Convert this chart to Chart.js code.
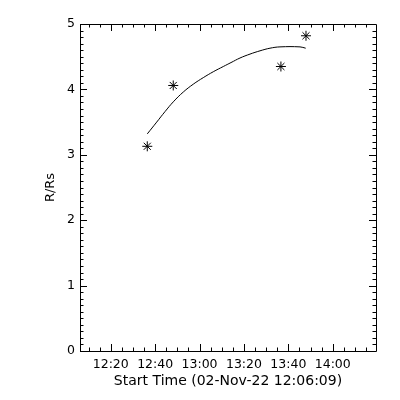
<!DOCTYPE html>
<html>
<head>
<meta charset="utf-8">
<script src="https://cdn.jsdelivr.net/npm/chart.js@4/dist/chart.umd.min.js"></script>
<style>
html,body{margin:0;padding:0;background:#fff;}
#wrap{width:400px;height:400px;}
</style>
</head>
<body>
<div id="wrap"><canvas id="c" width="400" height="400"></canvas></div>
<script>
// ---- data ----
const startTime = '12:06:09';
const axisSpanSeconds = 8000;
const pointTimes = ['12:36:27', '12:48:09', '13:36:39', '13:47:57'];
const pointValues = [3.13, 4.06, 4.35, 4.82];
const fitTimes = ['12:36:28','12:40:42','12:44:26','12:48:11','12:52:41','12:57:11','13:01:41','13:06:11','13:10:42','13:14:10','13:18:13','13:22:44','13:27:14','13:31:44','13:36:14','13:45:15','13:47:49'];
const fitValues = [3.32, 3.50, 3.66, 3.81, 3.96, 4.08, 4.18, 4.27, 4.35, 4.41, 4.48, 4.54, 4.59, 4.63, 4.65, 4.65, 4.63];
const xTickLabels = ['12:20', '12:40', '13:00', '13:20', '13:40', '14:00'];
const yTickLabels = ['0', '1', '2', '3', '4', '5'];
const xTitle = 'Start Time (02-Nov-22 12:06:09)';
const yTitle = 'R/Rs';

function toMin(s){ const p = s.split(':').map(Number); return p[0]*60 + p[1] + (p[2]||0)/60; }
const xMin = toMin(startTime);
const xMax = xMin + axisSpanSeconds/60;
const xTickValues = xTickLabels.map(toMin);

const boxTicks = {
  id: 'boxTicks',
  afterDraw(chart){
    const {ctx, chartArea: a, scales: {x, y}} = chart;
    ctx.save();
    ctx.strokeStyle = '#000';
    ctx.lineWidth = 1;
    ctx.beginPath();
    ctx.rect(Math.round(a.left)+0.5, Math.round(a.top)+0.5, Math.round(a.right)-Math.round(a.left), Math.round(a.bottom)-Math.round(a.top));
    ctx.stroke();
    ctx.beginPath();
    for (let i = 0; i <= 50; i++){
      const v = i/10;
      const py = Math.round(y.getPixelForValue(v)) + 0.5;
      const len = (i % 10 === 0) ? 7 : 3.5;
      ctx.moveTo(a.left, py); ctx.lineTo(a.left + len, py);
      ctx.moveTo(a.right, py); ctx.lineTo(a.right - len, py);
    }
    for (let m = Math.ceil(xMin/5)*5; m <= xMax; m += 5){
      const px = Math.round(x.getPixelForValue(m)) + 0.5;
      const len = (m % 20 === 0) ? 7 : 3.5;
      ctx.moveTo(px, a.bottom); ctx.lineTo(px, a.bottom - len);
      ctx.moveTo(px, a.top); ctx.lineTo(px, a.top + len);
    }
    ctx.stroke();
    ctx.restore();
  }
};

const font = {family: 'DejaVu Sans', size: 12.5};

new Chart(document.getElementById('c'), {
  type: 'scatter',
  data: {
    datasets: [
      {
        type: 'line',
        data: fitTimes.map((t, i) => ({x: toMin(t), y: fitValues[i]})),
        borderColor: '#000',
        borderWidth: 1,
        pointRadius: 0,
        tension: 0.4,
        fill: false
      },
      {
        data: pointTimes.map((t, i) => ({x: toMin(t), y: pointValues[i]})),
        pointStyle: 'star',
        pointRadius: 5,
        borderColor: '#000',
        backgroundColor: '#000',
        borderWidth: 1,
        showLine: false
      }
    ]
  },
  options: {
    responsive: false,
    animation: false,
    events: [],
    layout: {padding: {top: 24, right: 24, left: 0, bottom: 0}},
    plugins: {legend: {display: false}, tooltip: {enabled: false}},
    scales: {
      x: {
        type: 'linear',
        min: xMin,
        max: xMax,
        grid: {display: false, drawTicks: false, tickLength: 0},
        border: {display: false},
        afterBuildTicks(s){ s.ticks = xTickValues.map(v => ({value: v})); },
        afterFit(s){ s.height = 49; },
        ticks: {
          color: '#000', font, padding: 6, maxRotation: 0, autoSkip: false,
          callback(v){ const i = xTickValues.indexOf(v); return i >= 0 ? xTickLabels[i] : ''; }
        },
        title: {display: true, text: xTitle, color: '#000', font: {family: 'DejaVu Sans', size: 14}, padding: {top: 0, bottom: 10}}
      },
      y: {
        type: 'linear',
        min: 0,
        max: 5,
        grid: {display: false, drawTicks: false, tickLength: 0},
        border: {display: false},
        afterBuildTicks(s){ s.ticks = yTickLabels.map(l => ({value: Number(l)})); },
        afterFit(s){ s.width = 80; },
        ticks: {
          color: '#000', font, padding: 5,
          callback(v){ const i = yTickLabels.indexOf(String(v)); return i >= 0 ? yTickLabels[i] : ''; }
        },
        title: {display: true, text: yTitle, color: '#000', font: {family: 'DejaVu Sans', size: 13}, padding: {top: 43, bottom: 0}}
      }
    }
  },
  plugins: [boxTicks]
});
</script>
</body>
</html>
